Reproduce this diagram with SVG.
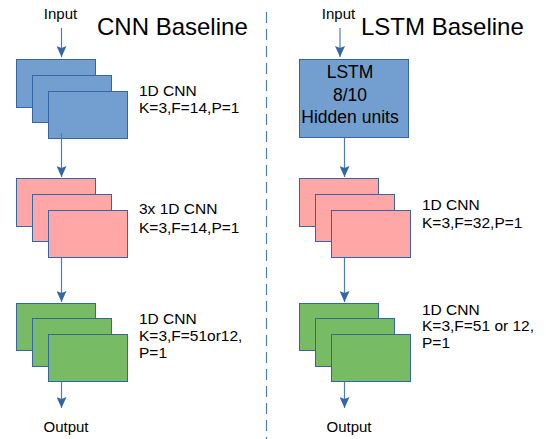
<svg xmlns="http://www.w3.org/2000/svg" width="546" height="439" viewBox="0 0 546 439">
<defs>
<style>
text{font-family:"Liberation Sans",Arial,sans-serif;fill:#000}
.lbl{font-size:15.5px}
.title{font-size:24px}
.io{font-size:15px}
.blue{fill:#729fcf;stroke:#3465a4;stroke-width:1}
.pink{fill:#ffa6a6;stroke:#3465a4;stroke-width:1}
.green{fill:#77bc65;stroke:#3465a4;stroke-width:1}
.conn{stroke:#4a7ebb;stroke-width:1.2;fill:none}
</style>
<marker id="ah" viewBox="0 0 12 10" refX="11" refY="5" markerWidth="12" markerHeight="10" markerUnits="userSpaceOnUse" orient="auto">
<path d="M0,0 L11,5 L0,10 L2,5 Z" fill="#3465a4"/>
</marker>
</defs>
<rect width="546" height="439" fill="#fff"/>

<g id="divider">
<line x1="266.5" y1="12" x2="266.5" y2="439" stroke="#4a7ebb" stroke-width="1.2" stroke-dasharray="11,6"/>
</g>

<g id="titles">
<text class="title" x="97" y="35">CNN Baseline</text>
<text class="title" x="361" y="35">LSTM Baseline</text>
</g>

<g id="cnn-input"><text class="io" x="60.5" y="19" text-anchor="middle">Input</text></g>
<g id="lstm-input"><text class="io" x="338.5" y="18.5" text-anchor="middle">Input</text></g>

<g id="cnn-blue">
<rect class="blue" x="16.5" y="59.5" width="79" height="48"/>
<rect class="blue" x="32.5" y="75.5" width="79" height="47"/>
<rect class="blue" x="48.5" y="91.5" width="79" height="47"/>
<text class="lbl" x="139" y="96">1D CNN</text>
<text class="lbl" x="139" y="112.5">K=3,F=14,P=1</text>
</g>

<g id="cnn-pink">
<rect class="pink" x="16.5" y="178.5" width="79" height="48"/>
<rect class="pink" x="32.5" y="194.5" width="79" height="47"/>
<rect class="pink" x="48.5" y="210.5" width="79" height="47"/>
<text class="lbl" x="139" y="214">3x 1D CNN</text>
<text class="lbl" x="139" y="232.5">K=3,F=14,P=1</text>
</g>

<g id="cnn-green">
<rect class="green" x="16.5" y="303.5" width="79" height="47"/>
<rect class="green" x="32.5" y="318.5" width="79" height="48"/>
<rect class="green" x="48.5" y="334.5" width="79" height="47"/>
<text class="lbl" x="139" y="323.5">1D CNN</text>
<text class="lbl" x="139" y="340.5">K=3,F=51or12,</text>
<text class="lbl" x="139" y="358">P=1</text>
</g>

<g id="cnn-output"><text class="io" x="66" y="432" text-anchor="middle">Output</text></g>

<g id="lstm-box">
<rect class="blue" x="299.5" y="59.5" width="109" height="78"/>
<text x="350" y="78" text-anchor="middle" font-size="17.5">LSTM</text>
<text x="350" y="101" text-anchor="middle" font-size="17.5">8/10</text>
<text x="350" y="123" text-anchor="middle" font-size="17.5">Hidden units</text>
</g>

<g id="lstm-pink">
<rect class="pink" x="299.5" y="178.5" width="79" height="48"/>
<rect class="pink" x="315.5" y="194.5" width="79" height="47"/>
<rect class="pink" x="331.5" y="210.5" width="79" height="47"/>
<text class="lbl" x="422" y="210">1D CNN</text>
<text class="lbl" x="422" y="228">K=3,F=32,P=1</text>
</g>

<g id="lstm-green">
<rect class="green" x="299.5" y="303.5" width="79" height="47"/>
<rect class="green" x="315.5" y="318.5" width="79" height="48"/>
<rect class="green" x="331.5" y="334.5" width="79" height="47"/>
<text class="lbl" x="422" y="315">1D CNN</text>
<text class="lbl" x="422" y="331">K=3,F=51 or 12,</text>
<text class="lbl" x="422" y="348">P=1</text>
</g>

<g id="lstm-output"><text class="io" x="349" y="432" text-anchor="middle">Output</text></g>

<g id="connectors">
<line class="conn" x1="61.5" y1="28" x2="61.5" y2="57" marker-end="url(#ah)"/>
<line class="conn" x1="61.5" y1="133" x2="61.5" y2="177" marker-end="url(#ah)"/>
<line class="conn" x1="61.5" y1="258" x2="61.5" y2="302" marker-end="url(#ah)"/>
<line class="conn" x1="61.5" y1="382" x2="61.5" y2="408" marker-end="url(#ah)"/>
<line class="conn" x1="340" y1="28" x2="340" y2="57" marker-end="url(#ah)"/>
<line class="conn" x1="344.5" y1="138" x2="344.5" y2="177" marker-end="url(#ah)"/>
<line class="conn" x1="344.5" y1="258" x2="344.5" y2="302" marker-end="url(#ah)"/>
<line class="conn" x1="344.5" y1="382" x2="344.5" y2="408" marker-end="url(#ah)"/>
</g>
</svg>
